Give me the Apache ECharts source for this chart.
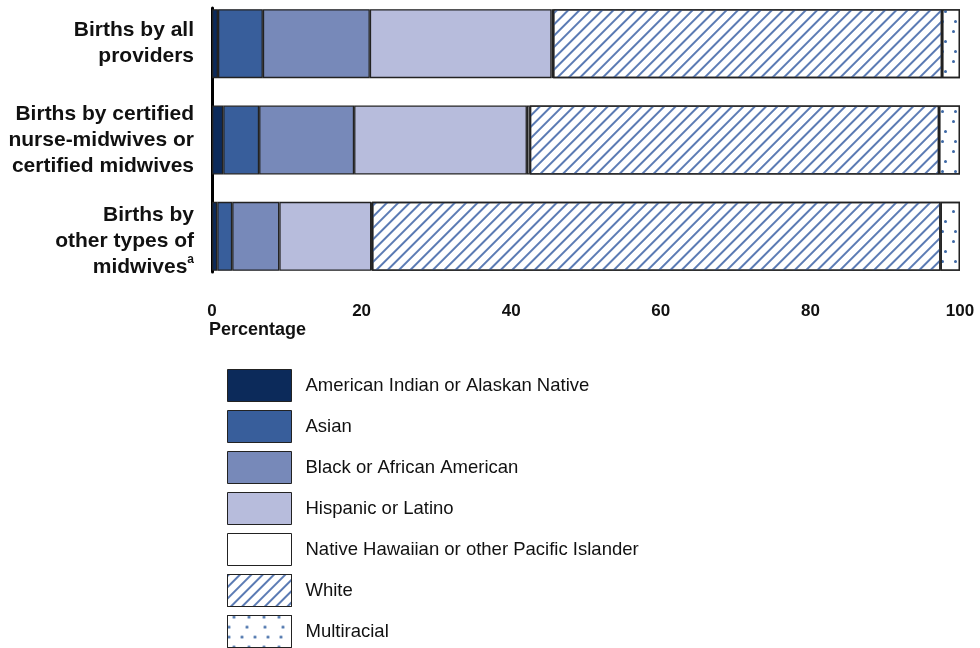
<!DOCTYPE html>
<html><head><meta charset="utf-8">
<script src="https://cdn.jsdelivr.net/npm/echarts@6/dist/echarts.min.js"></script>
<style>html,body{margin:0;padding:0;background:#fff}#c{width:980px;height:648px}</style>
</head><body><div id="c"></div>
<script>
const categories = ['Births by all\nproviders', 'Births by certified\nnurse-midwives or\ncertified midwives', 'Births by\nother types of\nmidwives{sup|a}'];
const seriesNames = ['American Indian or Alaskan Native','Asian','Black or African American','Hispanic or Latino','Native Hawaiian or other Pacific Islander','White','Multiracial'];
const aian = [0.8, 1.5, 0.7];
const asian = [6.0, 4.8, 2.0];
const black = [14.3, 12.7, 6.3];
const hispanic = [24.3, 23.1, 12.3];
const nhpi = [0.2, 0.4, 0.1];
const white = [52.0, 54.7, 76.0];
const multi = [2.4, 2.8, 2.6];
const xTicks = [0, 20, 40, 60, 80, 100];

const values = [aian, asian, black, hispanic, nhpi, white, multi];
const colors = ['#0c2a5a', '#385e9b', '#7789b9', '#b7bcdc', '#ffffff', '#ffffff', '#ffffff'];
const decals = [null, null, null, null, null,
  {symbol:'rect', color:'#5b7bb4', dashArrayX:[1,0], dashArrayY:[1.2,5.9], rotation:-Math.PI/4, symbolSize:1},
  {symbol:'circle', color:'#3d68a5', dashArrayX:[[2.2,10],[0,5,2.2,7],[2.2,15]], dashArrayY:[2.2,7], symbolSize:1}
];
const FONT = 'Liberation Sans, Arial, sans-serif';
const labelStyle = {fontFamily:FONT, fontSize:21, fontWeight:'bold', color:'#111', lineHeight:26};
const yData = categories.map((c,i)=> i===2 ? {value:c, textStyle:{padding:[9,0,0,0]}} : c);
const chart = echarts.init(document.getElementById('c'));
chart.setOption({
  animation:false,
  aria:{enabled:false, decal:{show:false}},
  title:{text:'Percentage', left:209, top:321, padding:0, textStyle:{fontFamily:FONT, fontSize:18, fontWeight:'bold', color:'#111'}},
  legend:{orient:'vertical', left:227, top:369, height:290, padding:0, icon:'rect', itemWidth:64, itemHeight:32, itemGap:8,
    textStyle:{fontFamily:FONT, fontSize:18.5, color:'#111', padding:[0,0,0,9]},
    itemStyle:{borderColor:'#222', borderWidth:1}, data:seriesNames},
  grid:[{left:212, right:20, top:-4.5, height:289, outerBoundsMode:'none'},{left:212, right:20, top:8, height:264, outerBoundsMode:'none'}],
  xAxis:[{type:'value', gridIndex:0, min:0, max:100, interval:20, axisLine:{show:false}, axisTick:{show:false}, splitLine:{show:false},
    axisLabel:{fontFamily:FONT, fontSize:17, fontWeight:'bold', color:'#111', margin:18, formatter:v=>xTicks.includes(v)?String(v):''}},
    {type:'value', gridIndex:1, min:0, max:100, show:false}],
  yAxis:[{type:'category', gridIndex:0, inverse:true, data:yData, axisLine:{show:false}, axisTick:{show:false},
    axisLabel:Object.assign({}, labelStyle, {margin:18, align:'right',
      rich:{sup:{fontFamily:FONT, fontSize:12, fontWeight:'bold', color:'#111', verticalAlign:'top', lineHeight:26, padding:[0,0,10,0]}}})},
    {type:'value', gridIndex:1, axisLine:{show:true, lineStyle:{color:'#000', width:3}}, axisTick:{show:false}, axisLabel:{show:false}, splitLine:{show:false}}],
  series: values.map((d,i)=>({
    name:seriesNames[i], type:'bar', stack:'all', xAxisIndex:0, yAxisIndex:0, data:d, barWidth:69,
    itemStyle:Object.assign({color:colors[i], borderColor:'#222', borderWidth:1.3}, decals[i]?{decal:decals[i]}:{})
  }))
});
</script></body></html>
